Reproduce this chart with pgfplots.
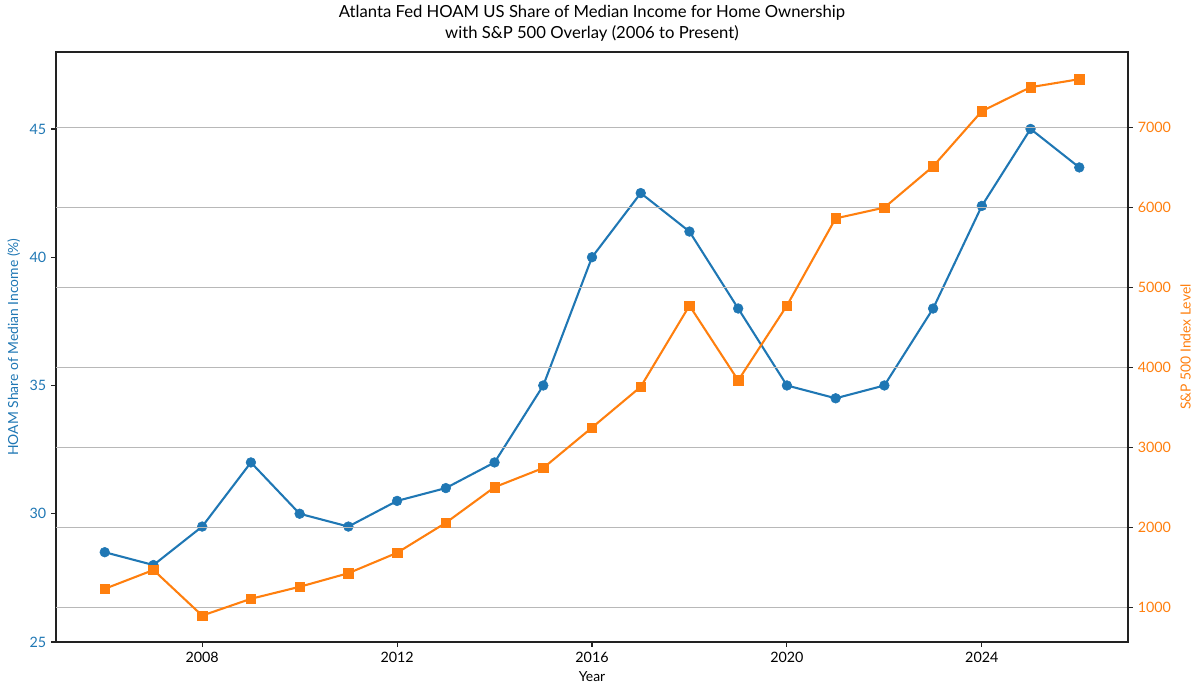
\documentclass[border=0pt]{standalone}
\usepackage{fontspec}
\setmainfont{Lato}
\usepackage{pgfplots}
\pgfplotsset{compat=1.18}
\definecolor{tabblue}{HTML}{1F77B4}
\definecolor{taborange}{HTML}{FF7F0E}
\definecolor{gridgray}{HTML}{B8B8B8}
\definecolor{spine}{HTML}{222222}
\begin{document}
\begin{tikzpicture}
\useasboundingbox (-40.32pt,-40.32pt) rectangle (823.68pt,462.24pt);
\pgfplotsset{
  common/.style={
    at={(0,0)}, anchor=south west,
    scale only axis, width=771.84pt, height=424.8pt,
    xmin=2005, xmax=2027,
    tick align=outside,
    major tick length=3.5pt,
    every tick/.style={spine, line width=0.8pt},
    axis line style={line width=0.8pt, spine},
    /pgf/number format/1000 sep={},
    /pgf/number format/assume math mode=true,
    tick label style={font=\fontsize{10.3}{12}\selectfont},
    label style={font=\fontsize{10}{12}\selectfont},
  }
}
\begin{axis}[common,
  ymin=25, ymax=48,
  xtick={2008,2012,2016,2020,2024},
  ytick={25,30,35,40,45},
  xtick pos=bottom, ytick pos=left,
  yticklabel style={color=tabblue},
  xlabel={Year},
  ylabel={HOAM Share of Median Income (\%)},
  ylabel style={color=tabblue},
  title={Atlanta Fed HOAM US Share of Median Income for Home Ownership\\with S\&P 500 Overlay (2006 to Present)},
  title style={align=center, font=\fontsize{12}{15}\selectfont, yshift=-2pt},
]
\addplot[tabblue, line width=1.5pt, mark=*, mark size=3.5pt, mark options={solid, fill=tabblue, draw=tabblue, line width=0.4pt}] coordinates {
(2006,28.5) (2007,28.0) (2008,29.5) (2009,32.0) (2010,30.0) (2011,29.5) (2012,30.5)
(2013,31.0) (2014,32.0) (2015,35.0) (2016,40.0) (2017,42.5) (2018,41.0) (2019,38.0)
(2020,35.0) (2021,34.5) (2022,35.0) (2023,38.0) (2024,42.0) (2025,45.0) (2026,43.5)
};
\end{axis}
\begin{axis}[common,
  ymin=570, ymax=7945,
  axis y line*=right, axis x line=none,
  ytick={1000,2000,...,7000},
  scaled y ticks=false,
  ymajorgrids,
  major grid style={gridgray, line width=0.8pt},
  yticklabel style={color=taborange},
  ylabel={S\&P 500 Index Level},
  ylabel style={color=taborange},
]
\addplot[taborange, line width=1.5pt, mark=square*, mark size=3.4pt, mark options={solid, fill=taborange, draw=taborange, line width=0.4pt}] coordinates {
(2006,1235) (2007,1470) (2008,900) (2009,1110) (2010,1260) (2011,1430) (2012,1685)
(2013,2060) (2014,2505) (2015,2745) (2016,3250) (2017,3760) (2018,4775) (2019,3840)
(2020,4775) (2021,5865) (2022,6000) (2023,6515) (2024,7205) (2025,7505) (2026,7605)
};
\end{axis}
\end{tikzpicture}
\end{document}
